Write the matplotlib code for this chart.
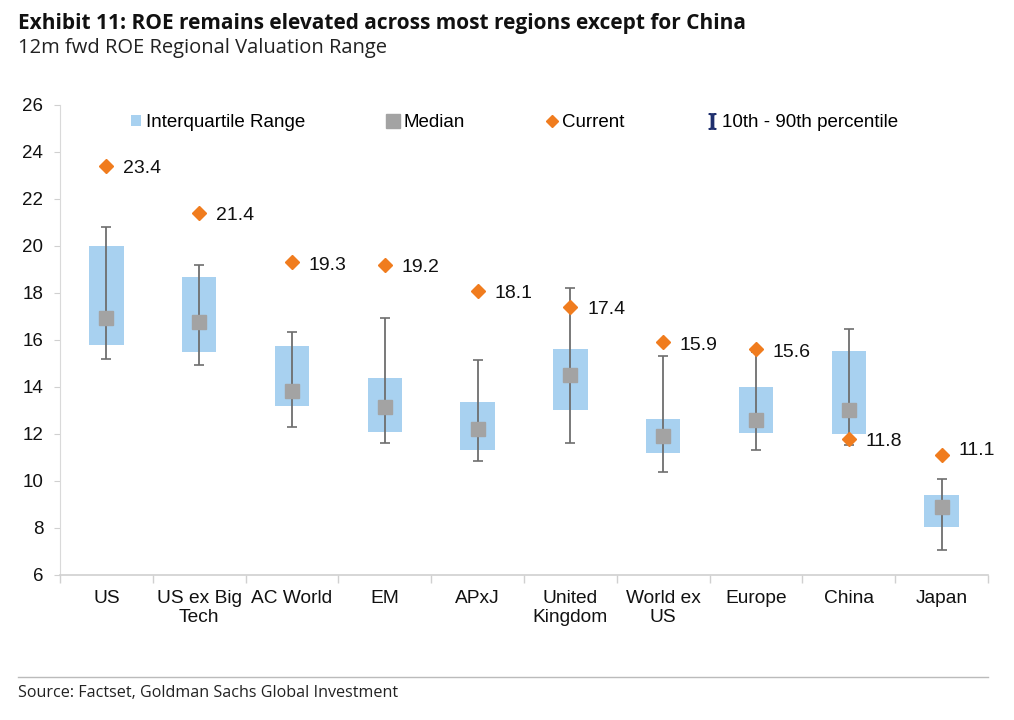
## ROE regional valuation range chart ##

import matplotlib
matplotlib.use('Agg')
import matplotlib.pyplot as plt
from matplotlib.lines import Line2D
from matplotlib.patches import Patch
import numpy as np

regions = ['US', 'US ex Big\nTech', 'AC World', 'EM', 'APxJ', 'United\nKingdom',
           'World ex\nUS', 'Europe', 'China', 'Japan']
iqr_low = [15.8, 15.5, 13.2, 12.1, 11.3, 13.0, 11.2, 12.05, 12.0, 8.05]
iqr_high = [20.0, 18.7, 15.75, 14.4, 13.35, 15.6, 12.65, 14.0, 15.55, 9.4]
median = [16.95, 16.75, 13.85, 13.15, 12.2, 14.5, 11.9, 12.6, 13.0, 8.9]
p10 = [15.2, 14.95, 12.3, 11.6, 10.85, 11.6, 10.4, 11.3, 11.55, 7.05]
p90 = [20.8, 19.2, 16.35, 16.95, 15.15, 18.2, 15.3, 15.5, 16.45, 10.1]
current = [23.4, 21.4, 19.3, 19.2, 18.1, 17.4, 15.9, 15.6, 11.8, 11.1]

plt.rcParams['font.family'] = ['Liberation Sans', 'DejaVu Sans']
plt.rcParams['mathtext.fontset'] = 'stix'

fig = plt.figure(figsize=(10.14, 7.2), dpi=100)
ax = fig.add_axes([0.0592, 0.2014, 0.9152, 0.6528])

x = np.arange(len(regions))
low = np.array(iqr_low)
high = np.array(iqr_high)

# interquartile boxes
ax.bar(x, high - low, bottom=low, width=0.37, color='#a8d1f0', zorder=1)

# 10th - 90th whiskers
med = np.array(median)
ax.errorbar(x, med, yerr=[med - np.array(p10), np.array(p90) - med], fmt='none',
            ecolor='#6e6e6e', elinewidth=1.3, capsize=3.5, capthick=1.2, zorder=2)

# medians
ax.plot(x, median, 's', color='#a3a3a3', markersize=10, zorder=3, linestyle='none')

# current
ax.plot(x, current, 'D', color='#f07c1e', markersize=7.5, zorder=4, linestyle='none')
for i, v in enumerate(current):
    dy = 3 if i == len(current) - 1 else -2
    ax.annotate('%.1f' % v, (x[i], v), xytext=(12, dy), textcoords='offset points',
                ha='left', va='center', fontsize=14, color='#111111')

ax.set_xlim(-0.5, len(regions) - 0.5)
ax.set_ylim(6, 26)
ax.set_yticks(range(6, 27, 2))
ax.set_xticks(x)
ax.set_xticklabels(regions, fontsize=13.8, color='#111111', linespacing=1.15)
ax.set_xticks(np.arange(-0.5, len(regions), 1), minor=True)
ax.tick_params(axis='x', which='major', length=0, pad=11)
ax.tick_params(axis='x', which='minor', length=6, color='#d0d0d0', width=1)
ax.tick_params(axis='y', length=4, color='#d0d0d0', labelsize=13.5, labelcolor='#111111', pad=8)

for s in ['top', 'right']:
    ax.spines[s].set_visible(False)
ax.spines['left'].set_color('#d9d9d9')
ax.spines['bottom'].set_color('#d0d0d0')
ax.spines['bottom'].set_linewidth(1.2)

handles = [Patch(facecolor='#a8d1f0', edgecolor='none'),
           Line2D([], [], marker='s', color='#a3a3a3', linestyle='none', markersize=10),
           Line2D([], [], marker='D', color='#f07c1e', linestyle='none', markersize=6),
           Line2D([], [], marker='$\\mathrm{I}$', color='#1f2f6e', linestyle='none', markersize=11)]
labels = ['Interquartile Range', 'Median', 'Current', '10th - 90th percentile']
ax.legend(handles, labels, ncol=4, loc='center', bbox_to_anchor=(0.49, 0.963), frameon=False,
          fontsize=13.5, handlelength=0.5, handleheight=0.5, handletextpad=0.3, columnspacing=4.4)

fig.text(0.018, 0.968, 'Exhibit 11: ROE remains elevated across most regions except for China',
         fontsize=15, fontweight='bold', family='Open Sans', va='center', color='#111111')
fig.text(0.018, 0.933, '12m fwd ROE Regional Valuation Range',
         fontsize=14.5, family='Open Sans', va='center', color='#222222')

fig.add_artist(Line2D([0.018, 0.974], [1 - 677 / 720, 1 - 677 / 720], color='#bbbbbb', linewidth=1))
fig.text(0.018, 1 - 693 / 720, 'Source: Factset, Goldman Sachs Global Investment',
         fontsize=11.6, family='Open Sans', va='center', color='#222222')

plt.savefig('out.png', dpi=100)
